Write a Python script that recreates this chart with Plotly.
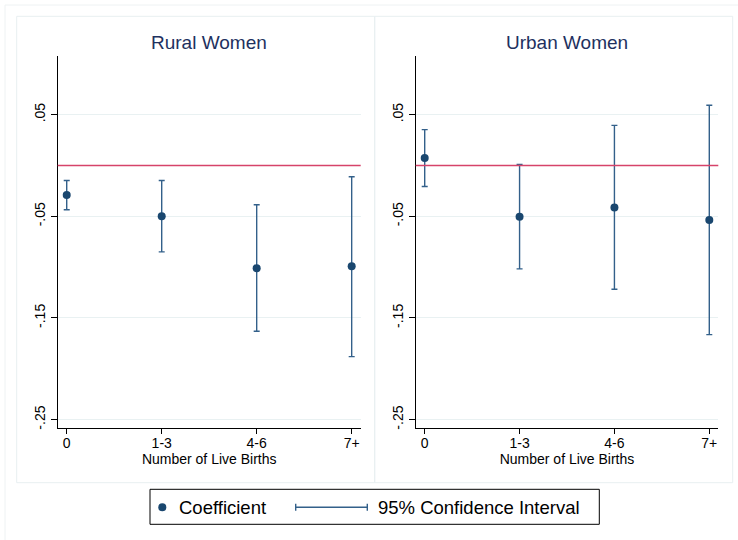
import plotly.graph_objects as go

# ---- data ----
categories = ["0", "1-3", "4-6", "7+"]
x_pos = [1, 2, 3, 4]

rural_coef = [-0.029, -0.050, -0.101, -0.099]
rural_lo = [-0.0435, -0.085, -0.163, -0.188]
rural_hi = [-0.0147, -0.0147, -0.0386, -0.011]

urban_coef = [0.0074, -0.0504, -0.0413, -0.0537]
urban_lo = [-0.0206, -0.1017, -0.1217, -0.1664]
urban_hi = [0.0353, 0.001, 0.0395, 0.0592]

ytick_vals = [0.05, -0.05, -0.15, -0.25]
ytick_text = [".05", "-.05", "-.15", "-.25"]

panel_titles = ["Rural Women", "Urban Women"]
xaxis_title = "Number of Live Births"
legend_labels = ["Coefficient", "95% Confidence Interval"]

# ---- style ----
W, H = 738, 540
FONT = "Liberation Sans, Arial, Helvetica, sans-serif"
NAVY = "#1a476f"
CI_COL = "#33608a"
RED = "#d6436a"
FRAME = "#e8eff1"
GRID = "#e9f1f2"
TITLE_COL = "#1e3160"


def px_x(p):
    return p / W


def px_y(p):
    return 1 - p / H


fig = go.Figure()

panels = [
    (rural_coef, rural_lo, rural_hi, (57.7, 360.7), "x", "y"),
    (urban_coef, urban_lo, urban_hi, (415.7, 718.3), "x2", "y2"),
]

for coef, lo, hi, _, xa, ya in panels:
    fig.add_trace(go.Scatter(
        x=x_pos, y=coef, mode="markers", xaxis=xa, yaxis=ya,
        marker=dict(color=NAVY, size=8),
        error_y=dict(type="data", symmetric=False,
                     array=[h - c for h, c in zip(hi, coef)],
                     arrayminus=[c - l for c, l in zip(coef, lo)],
                     color=CI_COL, thickness=1.4, width=3),
        showlegend=False, hoverinfo="skip",
    ))

y_top, y_bot = 55.7, 428.3
common_y = dict(
    range=[-0.2585, 0.108], tickvals=ytick_vals, ticktext=ytick_text,
    tickangle=-90, ticks="outside", ticklen=6, tickcolor="#000",
    showline=True, linecolor="#000", linewidth=1, mirror=False,
    showgrid=True, gridcolor=GRID, gridwidth=1, zeroline=False,
    tickfont=dict(family=FONT, size=14, color="#000"),
    domain=[px_y(y_bot), px_y(y_top)],
)
common_x = dict(
    range=[0.905, 4.095], tickvals=x_pos, ticktext=categories,
    ticks="outside", ticklen=5, tickcolor="#000",
    showline=True, linecolor="#000", linewidth=1,
    showgrid=False, zeroline=False, ticklabelstandoff=-3,
    tickfont=dict(family=FONT, size=14, color="#000"),
    title=dict(text=xaxis_title, font=dict(family=FONT, size=14, color="#000"), standoff=0),
)

fig.update_layout(
    xaxis=dict(common_x, domain=[px_x(57.7), px_x(360.7)], anchor="y"),
    yaxis=dict(common_y, anchor="x"),
    xaxis2=dict(common_x, domain=[px_x(415.7), px_x(718.3)], anchor="y2"),
    yaxis2=dict(common_y, anchor="x2"),
)

shapes = []
# outer frame (partially cropped)
shapes.append(dict(type="line", xref="paper", yref="paper", x0=px_x(5), x1=px_x(738), y0=px_y(5), y1=px_y(5),
                   line=dict(color="#eef2f3", width=1)))
shapes.append(dict(type="line", xref="paper", yref="paper", x0=px_x(5), x1=px_x(5), y0=px_y(5), y1=px_y(540),
                   line=dict(color="#eef2f3", width=1)))
# panel frames
for x0, x1 in [(16.7, 374.7), (374.7, 732.7)]:
    shapes.append(dict(type="rect", xref="paper", yref="paper", x0=px_x(x0), x1=px_x(x1),
                       y0=px_y(482.7), y1=px_y(16.3), line=dict(color=FRAME, width=1), layer="below"))
# zero reference lines
for xa in ["x", "x2"]:
    shapes.append(dict(type="line", xref=xa + " domain", yref=xa.replace("x", "y"), x0=0, x1=1, y0=0, y1=0,
                       line=dict(color=RED, width=1.6)))

# legend box
shapes.append(dict(type="rect", xref="paper", yref="paper", x0=px_x(150), x1=px_x(599.3),
                   y0=px_y(524.3), y1=px_y(489.3), line=dict(color="#000", width=1)))
# legend marker
shapes.append(dict(type="circle", xref="paper", yref="paper", x0=px_x(158.3), x1=px_x(166.3),
                   y0=px_y(511.3), y1=px_y(503.3), fillcolor=NAVY, line=dict(color=NAVY, width=0)))
# legend CI glyph
ly = 507.3
shapes.append(dict(type="line", xref="paper", yref="paper", x0=px_x(295.7), x1=px_x(367.3),
                   y0=px_y(ly), y1=px_y(ly), line=dict(color=CI_COL, width=1.4)))
for cx in [295.7, 367.3]:
    shapes.append(dict(type="line", xref="paper", yref="paper", x0=px_x(cx), x1=px_x(cx),
                       y0=px_y(ly - 3.5), y1=px_y(ly + 3.5), line=dict(color=CI_COL, width=1.4)))

annotations = []
for title, (_, _, _, (a, b), _, _) in zip(panel_titles, panels):
    annotations.append(dict(text=title, xref="paper", yref="paper", x=px_x((a + b) / 2), y=px_y(42.5),
                            xanchor="center", yanchor="middle", showarrow=False,
                            font=dict(family=FONT, size=19, color=TITLE_COL)))
annotations.append(dict(text=legend_labels[0], xref="paper", yref="paper", x=px_x(176.5), y=px_y(507.5),
                        xanchor="left", yanchor="middle", showarrow=False,
                        font=dict(family=FONT, size=18.5, color="#000")))
annotations.append(dict(text=legend_labels[1], xref="paper", yref="paper", x=px_x(376), y=px_y(507.5),
                        xanchor="left", yanchor="middle", showarrow=False,
                        font=dict(family=FONT, size=18.5, color="#000")))

fig.update_layout(
    width=W, height=H, margin=dict(l=0, r=0, t=0, b=0),
    paper_bgcolor="white", plot_bgcolor="white",
    shapes=shapes, annotations=annotations, showlegend=False,
    font=dict(family=FONT),
)

fig.write_html("out.html", config={"displayModeBar": False},
               post_script="document.body.style.margin='0';document.body.style.padding='0';")
